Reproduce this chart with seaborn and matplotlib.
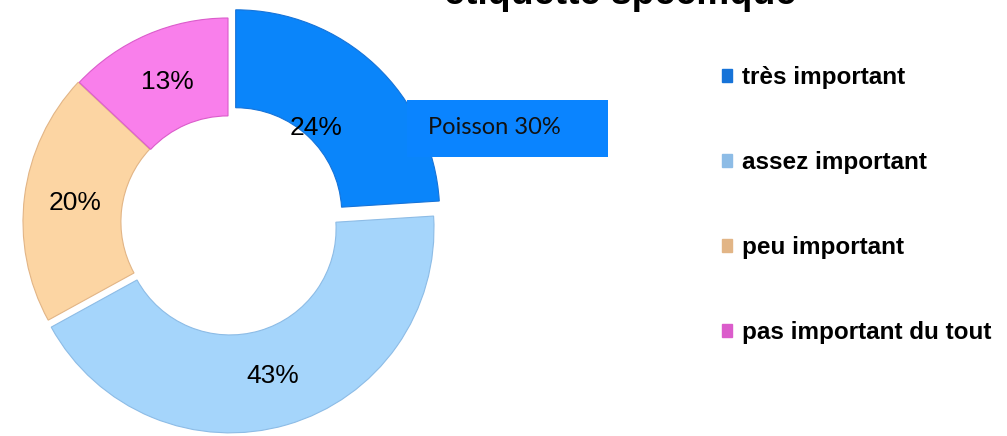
import matplotlib
matplotlib.use("Agg")
import matplotlib.pyplot as plt
from matplotlib.patches import Patch, Rectangle
import seaborn as sns

# Survey answers (share of respondents, %)
categories = ["très important", "assez important", "peu important", "pas important du tout"]
shares = [24, 43, 20, 13]
slice_colors = ["#0A85FA", "#A5D5FB", "#FCD5A3", "#F97FEB"]
rim_colors = ["#1673D8", "#8DBCE6", "#E2B586", "#DB5CCB"]
explode = [0.055, 0.035, 0.005, 0.0]
title_text = "étiquette spécifique"
note_text = "Poisson 30%"

sns.set_theme(style="white")
plt.rcParams["font.family"] = ["Liberation Sans", "DejaVu Sans"]
plt.rcParams["text.color"] = "black"

W, H = 1007, 436
fig = plt.figure(figsize=(W / 100, H / 100), dpi=100)
fig.patch.set_facecolor("white")

# donut axes: centre at (228, 222) px, outer radius 204 px
R = 204
cx, cy = 228, 222
span = 1.1
side = 2 * span * R
ax = fig.add_axes([(cx - side / 2) / W, (H - cy - side / 2) / H, side / W, side / H])

wedges, texts, autotexts = ax.pie(
    shares,
    colors=slice_colors,
    explode=explode,
    startangle=90,
    counterclock=False,
    autopct="%.0f%%",
    pctdistance=0.75,
    radius=1.0,
    wedgeprops=dict(width=0.48, linewidth=0.8),
    textprops=dict(fontsize=19, color="black"),
)
ax.set_xlim(-span, span)
ax.set_ylim(-span, span)
ax.set_aspect("equal")
ax.axis("off")

# subtle darker rim on each slice
for w, c in zip(wedges, rim_colors):
    w.set_edgecolor(c)

# the first label sits closer to the hole
x, y = autotexts[0].get_position()
autotexts[0].set_position((x * 0.59 / 0.75, y * 0.59 / 0.75))

# note box on top of the chart
bx0, by0, bx1, by1 = 407, 100, 608, 157
fig.patches.append(Rectangle((bx0 / W, 1 - by1 / H), (bx1 - bx0) / W, (by1 - by0) / H,
                             transform=fig.transFigure, facecolor="#0A84FF",
                             edgecolor="none", zorder=5))
fig.text(428 / W, 1 - 128 / H, note_text, fontsize=17, color="#111111",
         va="center", ha="left", family=["Lato", "DejaVu Sans"], zorder=6)

# title, mostly above the top edge
fig.text(620 / W, 1 - 4 / H, title_text, fontsize=27, fontweight="bold",
         ha="center", va="baseline", color="black")

# legend
handles = [Patch(facecolor=e, edgecolor=e) for e in rim_colors]
leg = fig.legend(handles, categories, loc="upper left",
                 bbox_to_anchor=(722 / W, 1 - 66 / H),
                 frameon=False,
                 prop=dict(size=17.5, weight="bold"),
                 handlelength=0.42, handleheight=0.42, handletextpad=0.4,
                 labelspacing=2.55, borderaxespad=0, borderpad=0)
for t in leg.get_texts():
    t.set_color("black")

fig.savefig("out.png", dpi=100, facecolor="white")
